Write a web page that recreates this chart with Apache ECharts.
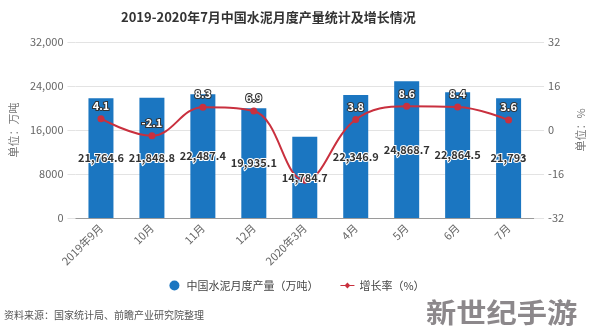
<!DOCTYPE html>
<html>
<head>
<meta charset="utf-8">
<style>
  html, body { margin: 0; padding: 0; background: #fff; }
  #chart { width: 594px; height: 336px; }
</style>
<script src="https://cdn.jsdelivr.net/npm/echarts@6/dist/echarts.min.js"></script>
</head>
<body>
<div id="chart"></div>
<script>
// Monthly cement output (10k tonnes) and year-on-year growth (%)
const months = ['2019年9月', '10月', '11月', '12月', '2020年3月', '4月', '5月', '6月', '7月'];
const output = [21764.6, 21848.8, 22487.4, 19935.1, 14784.7, 22346.9, 24868.7, 22864.5, 21793];
const growth = [4.1, -2.1, 8.3, 6.9, -18.3, 3.8, 8.6, 8.4, 3.6];
const leftTicks = [0, 8000, 16000, 24000, 32000];
const rightTicks = [-32, -16, 0, 16, 32];

const FONT = '"Noto Sans CJK SC", "Noto Sans", sans-serif';
const BAR = '#1b76c1';
const LINE = '#c9303e';

const chart = echarts.init(document.getElementById('chart'));

function fmtThousands(v) {
  if (v === 8000) return '8000';
  return v.toLocaleString('en-US');
}

const barLabel = {
  show: true,
  position: 'inside',
  formatter: p => p.value.toLocaleString('en-US', { maximumFractionDigits: 1 }),
  fontSize: 11,
  fontWeight: 'bold',
  color: '#333',
  textBorderColor: '#fff',
  textBorderWidth: 2,
  fontFamily: FONT
};

chart.setOption({
  animation: false,
  textStyle: { fontFamily: FONT },
  title: {
    text: '2019-2020年7月中国水泥月度产量统计及增长情况',
    left: 116,
    top: 6,
    textStyle: { fontSize: 13, fontWeight: 'bold', color: '#333', fontFamily: FONT }
  },
  grid: { left: 75, right: 56, top: 42, bottom: 118 },
  legend: {
    bottom: 40,
    left: 'center',
    itemGap: 22,
    itemWidth: 14,
    itemHeight: 10,
    textStyle: { fontSize: 11, color: '#444', fontFamily: FONT },
    data: [
      { name: '中国水泥月度产量（万吨）', icon: 'circle' },
      { name: '增长率（%）', icon: 'path://M0,4.4H4.6L7,2L9.4,4.4H14V5.6H9.4L7,8L4.6,5.6H0Z' }
    ]
  },
  xAxis: {
    type: 'category',
    data: months,
    axisLine: { lineStyle: { color: '#9a9a9a' } },
    axisTick: { alignWithLabel: true, length: 5, lineStyle: { color: '#9a9a9a' } },
    axisLabel: { rotate: 45, fontSize: 11, color: '#666', margin: 8, fontFamily: FONT }
  },
  yAxis: [
    {
      type: 'value',
      min: leftTicks[0], max: leftTicks[leftTicks.length - 1], interval: leftTicks[1] - leftTicks[0],
      name: '单位：万吨',
      nameLocation: 'middle',
      nameGap: 48,
      nameTextStyle: { fontSize: 11, color: '#777', fontFamily: FONT },
      axisLine: { show: false },
      axisTick: { show: true, length: 8, lineStyle: { color: '#e3e3e3' } },
      axisLabel: { fontSize: 11, color: '#666', margin: 12, formatter: fmtThousands, fontFamily: FONT },
      splitLine: { lineStyle: { color: '#e3e3e3' } }
    },
    {
      type: 'value',
      min: rightTicks[0], max: rightTicks[rightTicks.length - 1], interval: rightTicks[1] - rightTicks[0],
      name: '单位：%',
      nameLocation: 'middle',
      nameGap: 36,
      nameRotate: 90,
      nameTextStyle: { fontSize: 11, color: '#777', fontFamily: FONT },
      axisLine: { show: false },
      axisTick: { show: true, length: 10, lineStyle: { color: '#e3e3e3' } },
      axisLabel: { fontSize: 11, color: '#666', margin: 14, fontFamily: FONT },
      splitLine: { show: false }
    }
  ],
  series: [
    {
      name: '中国水泥月度产量（万吨）',
      type: 'bar',
      data: output,
      barWidth: 25,
      itemStyle: { color: BAR },
      z: 2
    },
    {
      name: '增长率（%）',
      type: 'line',
      yAxisIndex: 1,
      data: growth,
      smooth: 0.4,
      symbol: 'circle',
      symbolSize: 7,
      lineStyle: { color: LINE, width: 2 },
      itemStyle: { color: LINE },
      label: {
        show: true,
        position: 'top',
        distance: 4,
        formatter: p => (p.dataIndex === 4 ? '' : String(p.value)),
        fontSize: 11,
        fontWeight: 'bold',
        color: '#fff',
        textBorderColor: '#333',
        textBorderWidth: 2,
        fontFamily: FONT
      },
      z: 3
    },
    {
      // value labels for the output bars, kept above the growth line
      name: 'output-labels',
      type: 'bar',
      data: output,
      barWidth: 25,
      barGap: '-100%',
      itemStyle: { color: 'rgba(0,0,0,0)' },
      label: barLabel,
      silent: true,
      z: 5
    }
  ],
  graphic: [
    {
      type: 'text',
      left: 4,
      top: 310,
      style: { text: '资料来源：国家统计局、前瞻产业研究院整理', fontSize: 10, fill: '#555', fontFamily: FONT }
    },
    {
      type: 'text',
      left: 426,
      top: 299,
      scaleX: 1.12,
      style: { text: '新世纪手游', fontSize: 27, fontWeight: 'bold', fill: '#8c888b', fontFamily: FONT }
    }
  ]
});
</script>
</body>
</html>
